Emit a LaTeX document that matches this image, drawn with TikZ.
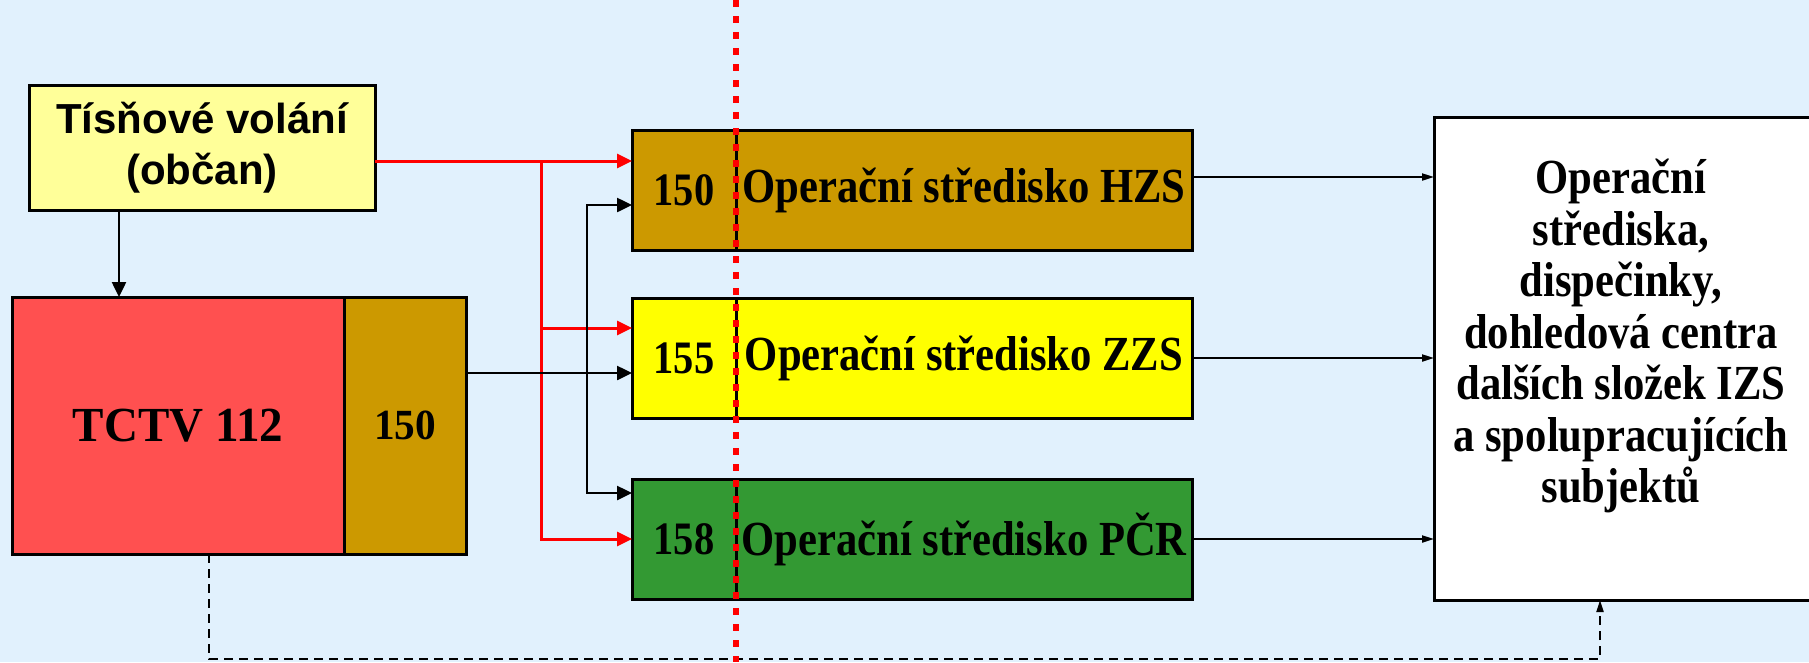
\documentclass[tikz,border=0pt]{standalone}
\usepackage{fontspec}
\setmainfont{Liberation Serif}[FakeStretch=0.87]
\newfontfamily\tctvfont{Liberation Serif}[FakeStretch=0.96]
\newfontfamily\callfont{Liberation Sans}
\usetikzlibrary{positioning,arrows.meta}

\definecolor{bgblue}{RGB}{225,241,253}
\definecolor{hzsbrown}{RGB}{204,153,0}
\definecolor{zzsyellow}{RGB}{255,255,0}
\definecolor{pcrgreen}{RGB}{51,153,51}
\definecolor{tctvred}{RGB}{255,80,80}
\definecolor{callyellow}{RGB}{255,255,153}
\definecolor{linered}{RGB}{255,0,0}

\begin{document}
\begin{tikzpicture}[x=1pt, y=-1pt, line width=2.5pt,
    >={Triangle[length=15pt,width=14pt]},
    box/.style={draw, line width=3pt, outer sep=0pt, inner sep=2pt,
        font=\bfseries\fontsize{49}{52}\selectfont},
    numbox/.style={box, minimum width=104pt, minimum height=120pt,
        font=\bfseries\fontsize{46.5}{50}\selectfont},
    namebox/.style={box, minimum width=456pt, minimum height=120pt},
    redline/.style={draw=linered, line width=3pt, ->},
    smallarr/.style={-{Triangle[length=12pt,width=7pt]}, line width=2pt}]

    % Background
    \useasboundingbox (0,0) rectangle (1809,662);
    \fill [bgblue] (0,0) rectangle (1809,662);

    % Nodes
    \node [box, fill=callyellow, minimum width=346pt, minimum height=125pt, align=center,
        font=\callfont\bfseries\fontsize{42}{51}\selectfont]      (volani)   at (202,147.5) {Tísňové volání\\(občan)};
    \node [box, fill=tctvred, minimum width=332pt, minimum height=257pt,
        font=\tctvfont\bfseries\fontsize{49}{56}\selectfont]      (tctv)     at (178,425.5) {TCTV 112};
    \node [box, fill=hzsbrown, minimum width=122pt, minimum height=257pt,
        font=\tctvfont\bfseries\fontsize{43}{50}\selectfont]      (tctvnum)  [right=0pt of tctv]    {150};

    \node [numbox, fill=hzsbrown]     (hzsnum)   at (684,190)             {150};
    \node [namebox, fill=hzsbrown]    (hzsname)  [right=0pt of hzsnum]    {Operační středisko HZS};
    \node [numbox, fill=zzsyellow]    (zzsnum)   [below=48pt of hzsnum]   {155};
    \node [namebox, fill=zzsyellow]   (zzsname)  [right=0pt of zzsnum]    {Operační středisko ZZS};
    \node [numbox, fill=pcrgreen]     (pcrnum)   [below=61pt of zzsnum]   {158};
    \node [namebox, fill=pcrgreen]    (pcrname)  [right=0pt of pcrnum]    {Operační středisko PČR};

    \node [box, fill=white, minimum width=378pt, minimum height=483pt] (slozky) at (1623,358.5) {};
    \node [align=center, font=\bfseries\fontsize{49}{51.5}\selectfont] (slozkytext) at (1621,336)
        {Operační\\střediska,\\dispečinky,\\dohledová centra\\dalších složek IZS\\a spolupracujících\\subjektů};

    % Helper points
    \coordinate (redtop) at (541,161);
    \coordinate (redmid) at (541,328);
    \coordinate (blktop) at (587,205);
    \coordinate (blkmid) at (587,373);
    \coordinate (blkbot) at (587,493);
    \coordinate (downx)  at (119,0);
    \coordinate (hzsout) at (1192,177);
    \coordinate (dashleft)  at (209,659);
    \coordinate (dashright) at (1600,659);

    % Paths
    \draw [redline] (volani.east |- redtop) -- (hzsnum.west |- redtop);
    \draw [redline] (redtop) |- (pcrnum.west);
    \draw [redline] (redmid) -- (zzsnum.west |- redmid);

    \draw [->] (volani.south -| downx) -- (tctv.north -| downx);
    \draw [->] (tctvnum.east |- blkmid) -- (zzsnum.west |- blkmid);
    \draw [->] (blkbot) |- (hzsnum.west |- blktop);
    \draw [->] (blktop) |- (pcrnum.west |- blkbot);

    \draw [smallarr] (hzsname.east |- hzsout) -- (slozky.west |- hzsout);
    \draw [smallarr] (zzsname.east) -- (slozky.west |- zzsname.east);
    \draw [smallarr] (pcrname.east) -- (slozky.west |- pcrname.east);

    \draw [smallarr, dash pattern=on 9pt off 6pt] (tctv.south -| dashleft) -- (dashleft)
        -- (dashright) -- (slozky.south -| dashright);

    % Red dotted divider
    \draw [linered, line width=6.5pt, dash pattern=on 7pt off 9pt] (736,0) -- (736,662);
\end{tikzpicture}
\end{document}
